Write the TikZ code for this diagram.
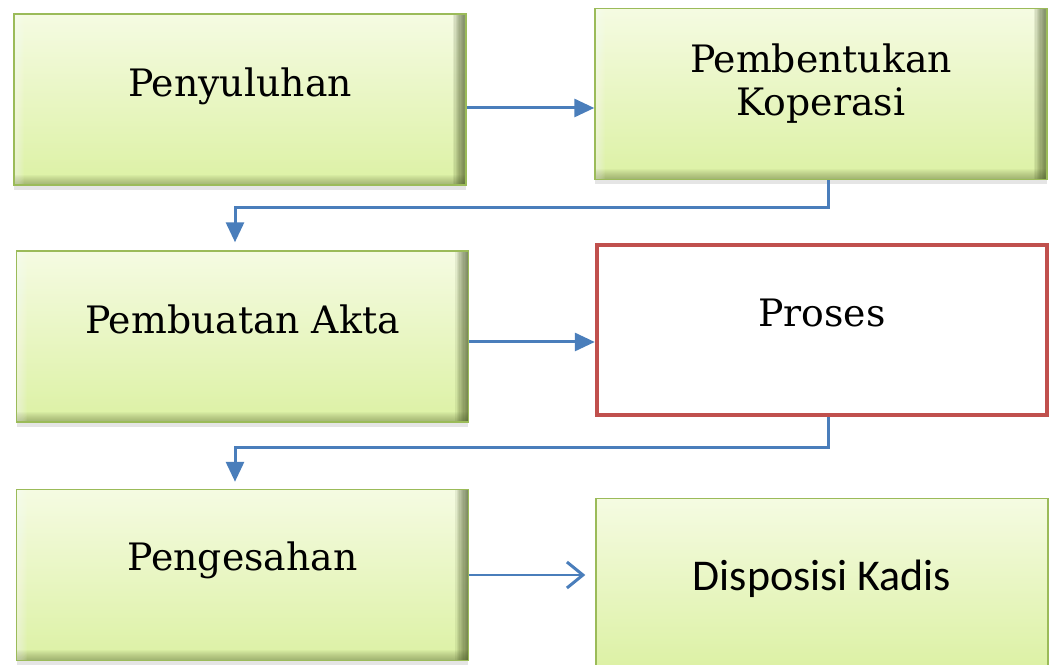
\documentclass[tikz,border=0pt]{standalone}
\usepackage{fontspec}
\setmainfont{DejaVu Serif}
\newfontfamily\carlito{Carlito}
\usetikzlibrary{arrows.meta,shadows}
\definecolor{olivebd}{HTML}{9BBB59}
\definecolor{bevdark}{HTML}{3F4E1F}
\definecolor{greentop}{HTML}{F5FBE2}
\definecolor{greenbot}{HTML}{DCF1A4}
\definecolor{flowblue}{HTML}{4A7EBB}
\definecolor{redbd}{HTML}{C0504D}
\begin{document}
\begin{tikzpicture}[x=0.02cm,y=-0.02cm,
    box/.style={draw=olivebd,line width=0.03cm,top color=greentop,bottom color=greenbot,
        minimum width=9.04cm,minimum height=3.42cm,inner sep=0pt},
    bevel/.style={box,drop shadow={shadow xshift=0pt,shadow yshift=-0.1cm,opacity=0.2},
        path picture={
            \foreach \i in {1,...,10} {
                \fill[bevdark,opacity=0.09] ([xshift=-\i*0.026cm]path picture bounding box.north east) rectangle (path picture bounding box.south east);
                \fill[bevdark,opacity=0.04] ([yshift=\i*0.02cm]path picture bounding box.south west) rectangle (path picture bounding box.south east);
                \fill[white,opacity=0.06] (path picture bounding box.north west) rectangle ([xshift=\i*0.02cm]path picture bounding box.south west);
            }
        }},
    txt/.style={font=\fontsize{21.5}{24.5}\selectfont,align=center},
    flow/.style={draw=flowblue,line width=0.06cm,-{Triangle[length=0.4cm,width=0.36cm]}}]
\useasboundingbox[fill=white] (0,0) rectangle (1052,665);
% left column
\node[bevel,label={[txt,yshift=0.27cm]center:Penyuluhan}] (penyuluhan) at (240,99.5) {};
\node[bevel,label={[txt,yshift=0.35cm]center:Pembuatan Akta}] (pembuatan) at (242.5,336.5) {};
\node[bevel,label={[txt,yshift=0.3cm]center:Pengesahan}] (pengesahan) at (242.5,575) {};
% right column
\node[bevel,label={[txt,yshift=0.21cm]center:Pembentukan\\Koperasi}] (pembentukan) at (821,94) {};
\node[draw=redbd,line width=0.09cm,fill=white,minimum width=9cm,minimum height=3.4cm,
    label={[txt,yshift=0.34cm]center:Proses}] (proses) at (822,330) {};
\node[box,label={[font=\carlito\fontsize{25}{28}\selectfont,yshift=0.1cm]center:Disposisi Kadis}] (disposisi) at (822,584) {};
% connectors
\draw[flow] ([yshift=-0.17cm]penyuluhan.east) -- ([yshift=-0.17cm]penyuluhan.east -| pembentukan.west);
\draw[flow] ([xshift=0.14cm]pembentukan.south) -- ++(0,-0.54cm) -| ([xshift=-0.15cm,yshift=0.16cm]pembuatan.north);
\draw[flow] ([yshift=-0.11cm]pembuatan.east) -- ([yshift=-0.11cm]pembuatan.east -| proses.west);
\draw[flow] ([xshift=0.12cm]proses.south) -- ++(0,-0.6cm) -| ([xshift=-0.15cm,yshift=0.14cm]pengesahan.north);
\draw[flow,-{Straight Barb[length=0.32cm,width=0.52cm]}] (pengesahan.east) -- ([xshift=-0.2cm]pengesahan.east -| disposisi.west);
\end{tikzpicture}
\end{document}
